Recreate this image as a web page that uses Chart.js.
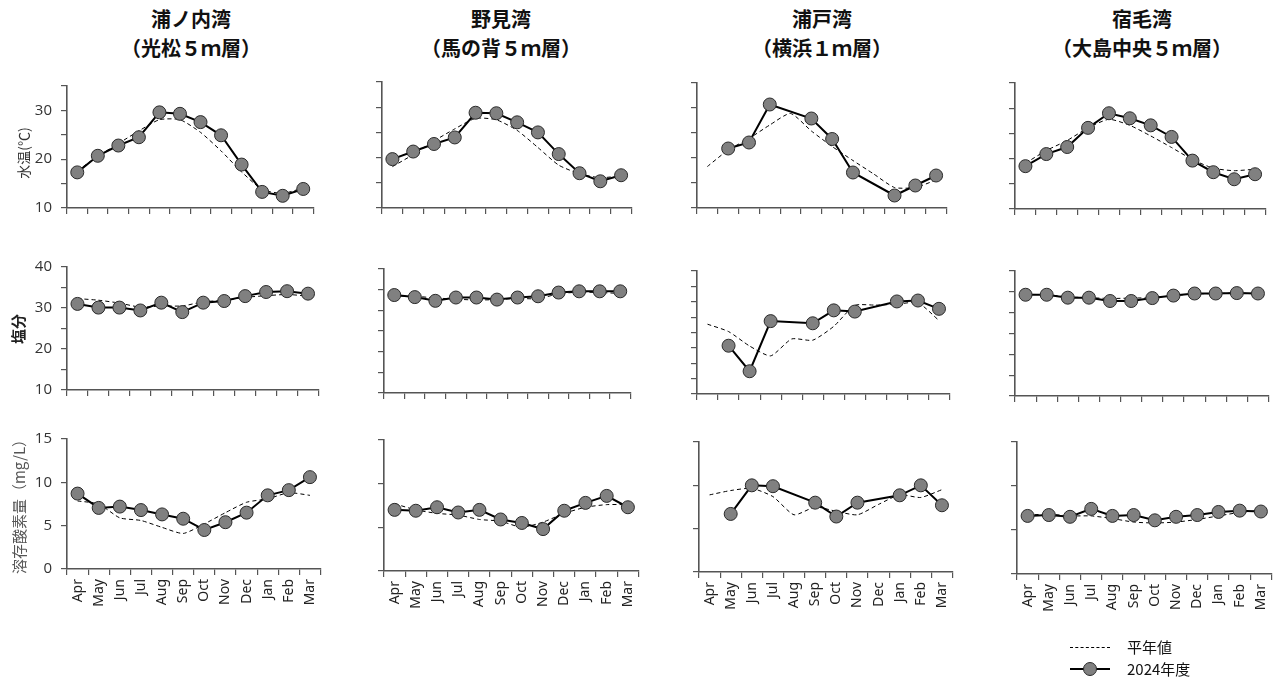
<!DOCTYPE html>
<html><head><meta charset="utf-8">
<script src="https://cdn.jsdelivr.net/npm/chart.js@4.4.1/dist/chart.umd.min.js"></script>
<style>
html,body{margin:0;padding:0;background:#fff;}
body{width:1278px;height:682px;position:relative;overflow:hidden;font-family:"Noto Sans CJK JP","Noto Sans",sans-serif;}
canvas{position:absolute;}
.title{position:absolute;width:300px;text-align:center;font-weight:bold;font-size:20px;line-height:29px;color:#111;}
.ytitle{position:absolute;transform:translate(-50%,-50%) rotate(-90deg);white-space:nowrap;}
.leg{position:absolute;font-size:15px;color:#111;line-height:20px;}
</style></head><body>
<script>
// ---------- data ----------
const months = ['Apr','May','Jun','Jul','Aug','Sep','Oct','Nov','Dec','Jan','Feb','Mar'];
const bayNames = ['浦ノ内湾','野見湾','浦戸湾','宿毛湾'];
const stationNames = ['（光松５ｍ層）','（馬の背５ｍ層）','（横浜１ｍ層）','（大島中央５ｍ層）'];
const legendLabels = ['平年値','2024年度'];
const rowTitles = ['水温(℃)','塩分','溶存酸素量（mg/L）'];

// water temperature
const uranouchiTempNormal = [17.6,20.6,23.2,25.8,28.1,28.1,25.5,21.7,17.4,13.8,13.0,14.1];
const uranouchiTemp2024   = [17.3,20.7,22.8,24.5,29.6,29.3,27.6,24.9,18.9,13.3,12.5,13.9];
const nomiTempNormal      = [18.2,20.6,23.3,25.7,27.8,27.5,25.4,22.0,18.5,16.8,16.0,16.4];
const nomiTemp2024        = [19.7,21.2,22.7,24.0,28.9,28.8,27.0,25.0,20.7,16.9,15.3,16.5];
const uradoTempNormal     = [18.3,21.6,23.9,26.6,28.9,25.4,22.3,19.5,16.8,14.1,14.1,15.6];
const uradoTemp2024       = [null,21.9,23.1,30.7,null,27.9,23.8,17.1,null,12.5,14.5,16.5];
const sukumoTempNormal    = [19.1,21.6,23.6,26.1,27.8,26.6,24.5,22.2,19.8,18.1,17.6,17.9];
const sukumoTemp2024      = [18.5,20.9,22.3,26.1,29.0,28.0,26.6,24.3,19.6,17.3,15.9,16.9];

// salinity
const uranouchiSalNormal  = [32.3,31.9,31.2,30.2,30.5,30.5,31.5,31.9,32.6,33.0,33.3,32.9];
const uranouchiSal2024    = [31.0,30.1,30.1,29.4,31.3,29.0,31.3,31.7,32.9,33.9,34.1,33.5];
const nomiSalNormal       = [33.5,33.4,33.0,32.7,32.5,32.6,32.9,32.8,34.0,34.4,34.3,34.1];
const nomiSal2024         = [33.7,33.2,32.3,33.1,33.1,32.6,33.1,33.4,34.3,34.6,34.6,34.6];
const uradoSalNormal      = [22.7,20.3,15.6,12.4,17.9,17.5,22.0,28.8,28.9,29.2,29.7,23.9];
const uradoSal2024        = [null,15.7,7.4,23.7,null,23.0,27.2,26.8,null,30.1,30.4,27.7];
const sukumoSalNormal     = [34.4,34.3,33.8,33.6,33.4,33.5,33.6,34.1,34.5,34.6,34.7,34.5];
const sukumoSal2024       = [34.3,34.3,33.6,33.6,32.8,32.8,33.5,34.1,34.6,34.6,34.7,34.6];

// dissolved oxygen
const uranouchiDoNormal   = [7.85,7.5,5.9,5.6,4.8,4.1,5.2,6.5,7.7,8.1,8.8,8.5];
const uranouchiDo2024     = [8.7,7.05,7.2,6.8,6.3,5.8,4.5,5.4,6.5,8.5,9.1,10.6];
const nomiDoNormal        = [7.7,7.0,6.6,6.4,5.9,5.7,5.0,5.6,6.6,7.3,7.6,7.6];
const nomiDo2024          = [7.0,6.9,7.3,6.7,7.0,5.9,5.5,4.8,6.9,7.8,8.6,7.3];
const uradoDoNormal       = [8.9,9.4,9.65,8.7,6.6,7.5,7.0,6.6,7.8,8.9,8.6,9.5];
const uradoDo2024         = [null,6.7,10.0,9.9,null,8.0,6.4,8.0,null,8.85,10.0,7.7];
const sukumoDoNormal      = [6.7,6.8,6.6,6.6,6.3,5.9,5.8,5.9,6.2,6.6,7.0,7.2];
const sukumoDo2024        = [6.6,6.7,6.5,7.4,6.6,6.7,6.1,6.5,6.7,7.05,7.2,7.1];

// ---------- layout ----------
const AXIS = '#555';
const panels = [
  // row 1: temperature
  {g:{l:67,r:315,t:78,b:216},   n:uranouchiTempNormal, a:uranouchiTemp2024, min:10,max:35, lab:10, row:0},
  {g:{l:382,r:633,t:74,b:216},  n:nomiTempNormal,      a:nomiTemp2024,      min:10,max:35, lab:0,  row:0},
  {g:{l:697,r:948,t:75,b:216},  n:uradoTempNormal,     a:uradoTemp2024,     min:10,max:35, lab:0,  row:0},
  {g:{l:1015,r:1267,t:75,b:217},n:sukumoTempNormal,    a:sukumoTemp2024,    min:10,max:35, lab:0,  row:0},
  // row 2: salinity
  {g:{l:67,r:320,t:259,b:398},  n:uranouchiSalNormal,  a:uranouchiSal2024,  min:10,max:40, lab:10, row:1},
  {g:{l:384,r:632,t:261,b:401}, n:nomiSalNormal,       a:nomiSal2024,       min:10,max:40, lab:0,  row:1},
  {g:{l:697,r:951,t:263,b:402}, n:uradoSalNormal,      a:uradoSal2024,      min:0, max:40, lab:0,  row:1},
  {g:{l:1015,r:1270,t:263,b:404},n:sukumoSalNormal,    a:sukumoSal2024,     min:10,max:40, lab:0,  row:1},
  // row 3: DO
  {g:{l:67,r:322,t:431,b:569},  n:uranouchiDoNormal,   a:uranouchiDo2024,   min:0,max:15, lab:5, row:2},
  {g:{l:384,r:640,t:432,b:571}, n:nomiDoNormal,        a:nomiDo2024,        min:0,max:15, lab:0, row:2},
  {g:{l:699,r:954,t:434,b:572}, n:uradoDoNormal,       a:uradoDo2024,       min:0,max:15, lab:0, row:2},
  {g:{l:1017,r:1273,t:434,b:574},n:sukumoDoNormal,     a:sukumoDo2024,      min:0,max:15, lab:0, row:2}
];

const rotatedLabels = {
  id:'rotatedLabels',
  afterDraw(chart, args, opts){
    if(!opts.show) return;
    const sx = chart.scales.x, ctx = chart.ctx;
    ctx.save();
    ctx.font = '14px "Noto Sans", "DejaVu Sans", sans-serif';
    ctx.fillStyle = '#222';
    ctx.textAlign = 'right';
    ctx.textBaseline = 'middle';
    chart.data.labels.forEach((lbl,i)=>{
      const x = sx.getPixelForTick(i);
      ctx.save();
      ctx.translate(x, chart.chartArea.bottom + 10);
      ctx.rotate(-Math.PI/2);
      ctx.fillText(lbl, 0, 0);
      ctx.restore();
    });
    ctx.restore();
  }
};

panels.forEach(p=>{
  const padL = 60, padR = 6, padT = 10;
  const xH = p.row===2 ? 60 : 10;
  const w = padL + (p.g.r - p.g.l) + padR;
  const h = padT + (p.g.b - p.g.t) + xH;
  const cv = document.createElement('canvas');
  cv.width = w; cv.height = h;
  cv.style.left = (p.g.l - padL) + 'px';
  cv.style.top = (p.g.t - padT) + 'px';
  cv.style.width = w + 'px'; cv.style.height = h + 'px';
  document.body.appendChild(cv);
  new Chart(cv, {
    type:'line',
    data:{
      labels: months,
      datasets:[
        {label:legendLabels[1], data:p.a, borderColor:'#000', borderWidth:2, tension:0, spanGaps:true,
         pointRadius:6.5, pointBackgroundColor:'#808080', pointBorderColor:'#2a2a2a', pointBorderWidth:1, clip:false},
        {label:legendLabels[0], data:p.n, borderColor:'#000', borderWidth:1, borderDash:[4,3], tension:0.2,
         pointRadius:0, clip:false}
      ]
    },
    options:{
      responsive:false, animation:false, devicePixelRatio:1,
      layout:{padding:{top:padT,right:padR,left:0,bottom:0}},
      plugins:{legend:{display:false}, tooltip:{enabled:false}, rotatedLabels:{show:p.row===2}},
      scales:{
        x:{
          type:'category', offset:true,
          grid:{offset:true, drawOnChartArea:false, drawTicks:true, tickLength:6, color:AXIS, lineWidth:1.2},
          border:{display:true, color:AXIS, width:1.6},
          ticks:{display:false},
          afterFit(s){ s.height = xH; }
        },
        y:{
          min:p.min, max:p.max,
          grid:{drawOnChartArea:false, drawTicks:true, tickLength:6, color:AXIS, lineWidth:1.2},
          border:{display:true, color:AXIS, width:1.6},
          ticks:{stepSize:5, autoSkip:false, padding:9, color:'#333',
                 font:{size:15, family:'"Open Sans","Noto Sans",sans-serif'},
                 callback:(v)=> (p.lab && v % p.lab === 0) ? String(v) : ''},
          afterFit(s){ s.width = padL; }
        }
      }
    },
    plugins:[rotatedLabels]
  });
});

// titles
const titleCenters = [191, 501, 822, 1142];
bayNames.forEach((name,i)=>{
  const d = document.createElement('div');
  d.className = 'title';
  d.style.left = (titleCenters[i]-150)+'px';
  d.style.top = '4px';
  d.innerHTML = name + '<br>' + stationNames[i];
  document.body.appendChild(d);
});

// y titles
const yt = [
  {x:23, y:153, size:14, color:'#333', weight:'normal'},
  {x:17, y:329, size:15, color:'#222', weight:'bold'},
  {x:18, y:503, size:15, color:'#555', weight:'normal'}
];
rowTitles.forEach((t,i)=>{
  const d = document.createElement('div');
  d.className = 'ytitle';
  d.style.left = yt[i].x+'px'; d.style.top = yt[i].y+'px';
  d.style.fontSize = yt[i].size+'px'; d.style.color = yt[i].color; d.style.fontWeight = yt[i].weight;
  d.textContent = t;
  document.body.appendChild(d);
});

// legend
const leg = document.createElement('div');
leg.innerHTML =
  '<div style="position:absolute;left:1070px;top:647px;width:40px;border-top:1.5px dashed #000;"></div>' +
  '<div class="leg" style="left:1127px;top:637px;">'+legendLabels[0]+'</div>' +
  '<div style="position:absolute;left:1070px;top:668px;width:40px;border-top:2px solid #000;"></div>' +
  '<div style="position:absolute;left:1083px;top:662px;width:12px;height:12px;border-radius:50%;background:#808080;border:1px solid #2a2a2a;"></div>' +
  '<div class="leg" style="left:1127px;top:659px;">'+legendLabels[1]+'</div>';
document.body.appendChild(leg);
</script>
</body></html>
